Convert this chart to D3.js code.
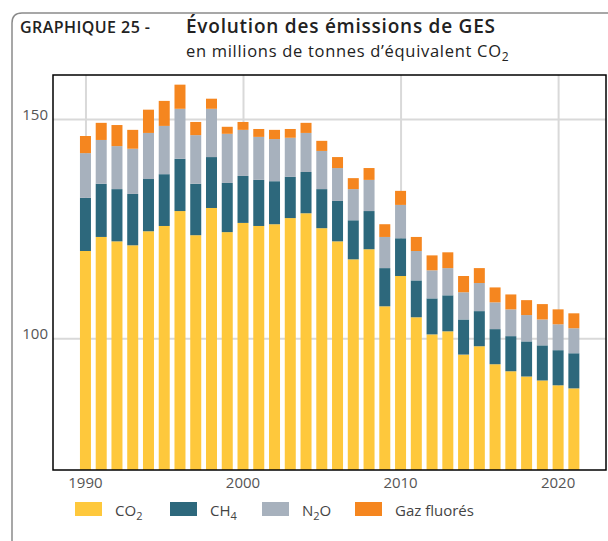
<!DOCTYPE html>
<html>
<head>
<meta charset="utf-8">
<script src="https://cdn.jsdelivr.net/npm/d3@7"></script>
<style>
  body { margin: 0; background: #fff; }
  svg { display: block; font-family: 'Open Sans', sans-serif; }
  .grid line { stroke: #d9d9d9; stroke-width: 2; }
  .grid path { display: none; }
  .tick-label { fill: #555; font-size: 15px; }
</style>
</head>
<body>
<div id="chart"></div>
<script>
const years = d3.range(1990, 2022);
const co2 = [119.9, 123.1, 122.1, 121.2, 124.4, 125.6, 129.0, 123.5, 129.7, 124.2,
  126.3, 125.6, 126.0, 127.4, 128.5, 125.1, 122.1, 118.0, 120.3, 107.3,
  114.2, 104.8, 100.9, 101.6, 96.3, 98.2, 94.1, 92.5, 91.3, 90.4, 89.3, 88.6];
const ch4 = [12.1, 12.1, 11.9, 11.7, 11.9, 11.8, 11.9, 11.7, 11.6, 11.2,
  10.7, 10.5, 9.8, 9.4, 9.4, 8.9, 9.2, 8.9, 8.7, 8.7,
  8.6, 8.4, 8.2, 8.2, 8.0, 8.0, 8.0, 8.0, 8.0, 8.0, 8.0, 8.0];
const n2o = [10.2, 10.0, 9.8, 10.3, 10.5, 11.0, 11.4, 11.1, 11.0, 11.2,
  10.5, 9.8, 9.6, 8.9, 8.9, 8.7, 7.5, 7.1, 7.1, 7.1,
  7.6, 6.7, 6.4, 6.2, 6.2, 6.4, 6.1, 6.1, 6.0, 5.9, 5.9, 5.7];
const fluores = [3.9, 3.9, 4.8, 4.3, 5.3, 5.7, 5.5, 3.0, 2.3, 1.6,
  1.8, 1.8, 2.1, 2.0, 2.3, 2.3, 2.5, 2.5, 2.7, 2.9,
  3.2, 3.2, 3.4, 3.6, 3.7, 3.4, 3.4, 3.4, 3.4, 3.5, 3.4, 3.4];
const seriesKeys = ['co2', 'ch4', 'n2o', 'fluores'];
const colors = ['#fec83c', '#2d687c', '#a7b1bd', '#f5861f'];
const yTicks = [100, 150];
const xTicks = [1990, 2000, 2010, 2020];

const width = 608, height = 541;
const margin = {top: 75, right: 2, bottom: 71, left: 53};
const innerW = width - margin.left - margin.right;
const innerH = height - margin.top - margin.bottom;

const rows = years.map((y, i) => ({year: y, co2: co2[i], ch4: ch4[i], n2o: n2o[i], fluores: fluores[i]}));
const stacked = d3.stack().keys(seriesKeys)(rows);

const svg = d3.select('#chart').append('svg')
  .attr('width', width)
  .attr('height', height);

// frame with rounded corner
svg.append('path')
  .attr('d', 'M12,541 L12,23 Q12,13 22,13 L608,13')
  .attr('fill', 'none')
  .attr('stroke', '#8a8a8a')
  .attr('stroke-width', 1.5);

svg.append('text')
  .attr('x', 20).attr('y', 32.5)
  .attr('font-size', 16).attr('font-weight', 600).attr('fill', '#222')
  .attr('textLength', 130).attr('lengthAdjust', 'spacing')
  .text('GRAPHIQUE 25 -');
svg.append('text')
  .attr('x', 186).attr('y', 32.5)
  .attr('font-size', 19).attr('font-weight', 600).attr('fill', '#222')
  .attr('textLength', 309).attr('lengthAdjust', 'spacing')
  .text('Évolution des émissions de GES');
const sub = svg.append('text')
  .attr('x', 186).attr('y', 57)
  .attr('font-size', 16.5).attr('fill', '#222')
  .attr('letter-spacing', 0.7)
  .text('en millions de tonnes d\u2019équivalent CO');
sub.append('tspan').attr('dy', 4).attr('font-size', 12).text('2');

const x = d3.scaleLinear().domain([1987.94, 2023.04]).range([0, innerW]);
const y = d3.scaleLinear().domain([70, 160]).range([innerH, 0]);

const g = svg.append('g').attr('transform', `translate(${margin.left},${margin.top})`);

g.append('g').attr('class', 'grid')
  .call(d3.axisLeft(y).tickValues(yTicks).tickSize(-innerW).tickFormat(''));
g.append('g').attr('class', 'grid')
  .attr('transform', `translate(0,${innerH})`)
  .call(d3.axisBottom(x).tickValues(xTicks).tickSize(innerH).tickSizeInner(-innerH).tickFormat(''));

const barW = 11;
g.selectAll('.layer')
  .data(stacked)
  .enter().append('g')
  .attr('class', 'layer')
  .attr('fill', (d, i) => colors[i])
  .selectAll('rect')
  .data(d => d)
  .enter().append('rect')
  .attr('x', d => x(d.data.year) - barW / 2)
  .attr('width', barW)
  .attr('y', d => y(d[1]))
  .attr('height', d => Math.min(innerH, y(Math.max(d[0], 70))) - y(d[1]));

g.append('rect')
  .attr('width', innerW).attr('height', innerH)
  .attr('fill', 'none').attr('stroke', '#000').attr('stroke-width', 1.5);

g.selectAll('.ylab')
  .data(yTicks)
  .enter().append('text')
  .attr('class', 'tick-label')
  .attr('x', -5)
  .attr('y', d => y(d) + 1)
  .attr('text-anchor', 'end')
  .text(d => d);

g.selectAll('.xlab')
  .data(xTicks)
  .enter().append('text')
  .attr('class', 'tick-label')
  .attr('x', d => x(d))
  .attr('y', innerH + 18)
  .attr('text-anchor', 'middle')
  .text(d => d);

// legend
const legendItems = [
  {label: 'CO', sub: '2', after: ''},
  {label: 'CH', sub: '4', after: ''},
  {label: 'N', sub: '2', after: 'O'},
  {label: 'Gaz fluorés', sub: '', after: ''}
];
const legendX = [75, 170, 262, 355];
const legend = svg.append('g');
legendItems.forEach((item, i) => {
  legend.append('rect')
    .attr('x', legendX[i]).attr('y', 502)
    .attr('width', 27).attr('height', 14)
    .attr('fill', colors[i]);
  const t = legend.append('text')
    .attr('x', legendX[i] + 40).attr('y', 516)
    .attr('font-size', 15).attr('fill', '#444')
    .text(item.label);
  if (item.sub) t.append('tspan').attr('dy', 4).attr('font-size', 11).text(item.sub);
  if (item.after) t.append('tspan').attr('dy', -4).text(item.after);
});
</script>
</body>
</html>
